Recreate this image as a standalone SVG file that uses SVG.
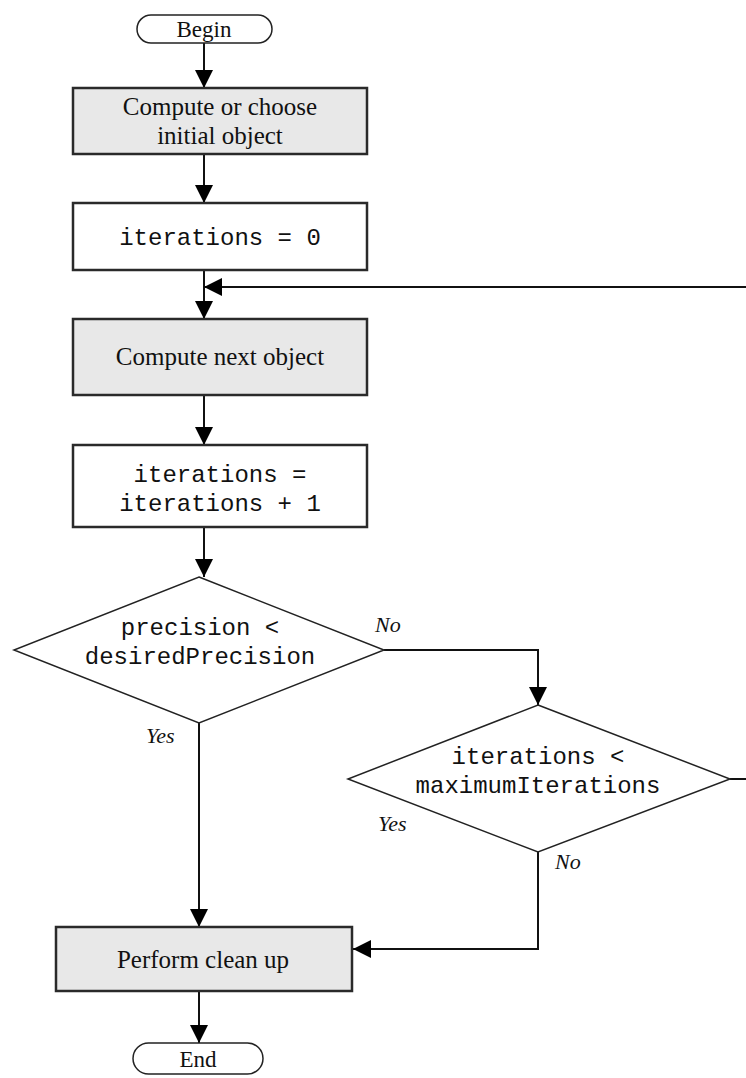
<svg xmlns="http://www.w3.org/2000/svg" width="746" height="1078" viewBox="0 0 746 1078">
<style>
.box{fill:#e8e8e8;stroke:#2a2a2a;stroke-width:2.5}
.wbox{fill:#ffffff;stroke:#2a2a2a;stroke-width:2.5}
.term{fill:#ffffff;stroke:#222;stroke-width:1.5}
.dia{fill:#ffffff;stroke:#222;stroke-width:1.5}
.edge{fill:none;stroke:#111;stroke-width:2}
.serif{font-family:"Liberation Serif","Times New Roman",serif;font-size:25px;fill:#111;text-anchor:middle}
.mono{font-family:"Liberation Mono","Courier New",monospace;font-size:24px;fill:#111;text-anchor:middle}
.lbl{font-family:"Liberation Serif","Times New Roman",serif;font-style:italic;font-size:22px;fill:#111}
</style>
<defs>
<marker id="arr" markerUnits="userSpaceOnUse" markerWidth="18" markerHeight="18" refX="18" refY="9" orient="auto">
<path d="M0,0 L18,9 L0,18 z" fill="#000"/>
</marker>
</defs>
<g id="connectors">
<path class="edge" d="M204,43 L204,88" marker-end="url(#arr)"/>
<path class="edge" d="M204,154 L204,203" marker-end="url(#arr)"/>
<path class="edge" d="M204,270 L204,319" marker-end="url(#arr)"/>
<path class="edge" d="M746,287 L204,287" marker-end="url(#arr)"/>
<path class="edge" d="M204,395 L204,445" marker-end="url(#arr)"/>
<path class="edge" d="M204,527 L204,577" marker-end="url(#arr)"/>
<path class="edge" d="M384,650 L538,650 L538,705" marker-end="url(#arr)"/>
<path class="edge" d="M199,723 L199,927" marker-end="url(#arr)"/>
<path class="edge" d="M730,779 L746,779"/>
<path class="edge" d="M538,852 L538,949 L353,949" marker-end="url(#arr)"/>
<path class="edge" d="M199,991 L199,1043" marker-end="url(#arr)"/>
</g>
<g id="begin">
<rect class="term" x="137" y="15" width="135" height="28" rx="14"/>
<text class="serif" x="204" y="37" style="font-size:23px">Begin</text>
</g>
<g id="init">
<rect class="box" x="73" y="88" width="294" height="66"/>
<text class="serif" x="220" y="115">Compute or choose</text>
<text class="serif" x="220" y="144">initial object</text>
</g>
<g id="iter0">
<rect class="wbox" x="73" y="203" width="294" height="67"/>
<text class="mono" x="220" y="245">iterations = 0</text>
</g>
<g id="next">
<rect class="box" x="73" y="319" width="294" height="76"/>
<text class="serif" x="220" y="365">Compute next object</text>
</g>
<g id="incr">
<rect class="wbox" x="73" y="445" width="294" height="82"/>
<text class="mono" x="220" y="482">iterations =</text>
<text class="mono" x="220" y="511">iterations + 1</text>
</g>
<g id="precision">
<polygon class="dia" points="199,577 384,650 199,723 14,650"/>
<text class="mono" x="200" y="635">precision &lt;</text>
<text class="mono" x="200" y="664">desiredPrecision</text>
</g>
<g id="maxiter">
<polygon class="dia" points="538,705 730,779 538,852 348,779"/>
<text class="mono" x="538" y="764">iterations &lt;</text>
<text class="mono" x="538" y="793">maximumIterations</text>
</g>
<g id="labels">
<text class="lbl" x="375" y="632">No</text>
<text class="lbl" x="146" y="743">Yes</text>
<text class="lbl" x="378" y="831">Yes</text>
<text class="lbl" x="555" y="869">No</text>
</g>
<g id="cleanup">
<rect class="box" x="56" y="927" width="296" height="64"/>
<text class="serif" x="203" y="968">Perform clean up</text>
</g>
<g id="end">
<rect class="term" x="133" y="1043" width="130" height="31" rx="15.5"/>
<text class="serif" x="198" y="1067" style="font-size:23px">End</text>
</g>
</svg>
